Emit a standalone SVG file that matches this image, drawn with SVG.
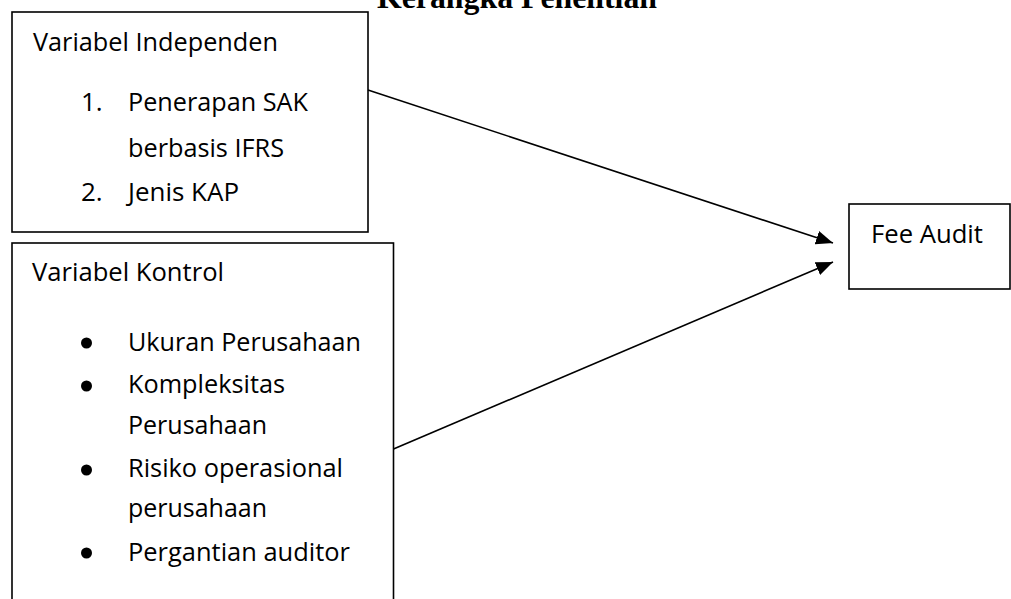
<svg xmlns="http://www.w3.org/2000/svg" width="1011" height="599" viewBox="0 0 1011 599">
  <style>
    .box { fill: #ffffff; stroke: #000000; stroke-width: 1.6; }
    .t { font-family: "Open Sans", "Liberation Sans", sans-serif; font-size: 26px; fill: #000000; }
    .title { font-family: "Liberation Serif", "Times New Roman", serif; font-size: 32px; font-weight: bold; fill: #000000; }
    .conn { stroke: #000000; stroke-width: 1.6; fill: none; }
  </style>
  <defs>
    <marker id="arrow" markerUnits="userSpaceOnUse" markerWidth="18" markerHeight="16" refX="17" refY="8" orient="auto">
      <path d="M0,1 L17,8 L0,15 Z" fill="#000000"/>
    </marker>
  </defs>
  <rect width="1011" height="599" fill="#ffffff"/>
  <text class="title" x="377" y="8" textLength="280" lengthAdjust="spacingAndGlyphs">Kerangka Penelitian</text>

  <g id="node-independen">
    <rect class="box" x="12" y="12" width="356" height="220"/>
    <text class="t" x="33" y="51" textLength="245" lengthAdjust="spacingAndGlyphs">Variabel Independen</text>
    <text class="t" x="81" y="111">1.</text>
    <text class="t" x="128" y="111" textLength="180" lengthAdjust="spacingAndGlyphs">Penerapan SAK</text>
    <text class="t" x="128" y="157" textLength="156" lengthAdjust="spacingAndGlyphs">berbasis IFRS</text>
    <text class="t" x="81" y="201">2.</text>
    <text class="t" x="128" y="201" textLength="111" lengthAdjust="spacingAndGlyphs">Jenis KAP</text>
  </g>

  <g id="node-kontrol">
    <rect class="box" x="12" y="243" width="381.5" height="370"/>
    <text class="t" x="32" y="281" textLength="192" lengthAdjust="spacingAndGlyphs">Variabel Kontrol</text>
    <circle cx="86.5" cy="343" r="5.5" fill="#000000"/>
    <text class="t" x="128" y="351" textLength="233" lengthAdjust="spacingAndGlyphs">Ukuran Perusahaan</text>
    <circle cx="86.5" cy="386" r="5.5" fill="#000000"/>
    <text class="t" x="128" y="393" textLength="157" lengthAdjust="spacingAndGlyphs">Kompleksitas</text>
    <text class="t" x="128" y="434" textLength="139" lengthAdjust="spacingAndGlyphs">Perusahaan</text>
    <circle cx="86.5" cy="470" r="5.5" fill="#000000"/>
    <text class="t" x="128" y="477" textLength="215" lengthAdjust="spacingAndGlyphs">Risiko operasional</text>
    <text class="t" x="128" y="517" textLength="139" lengthAdjust="spacingAndGlyphs">perusahaan</text>
    <circle cx="86.5" cy="553" r="5.5" fill="#000000"/>
    <text class="t" x="128" y="561" textLength="222" lengthAdjust="spacingAndGlyphs">Pergantian auditor</text>
  </g>

  <g id="node-fee">
    <rect class="box" x="849" y="204" width="161" height="85"/>
    <text class="t" x="871" y="243" textLength="112" lengthAdjust="spacingAndGlyphs">Fee Audit</text>
  </g>

  <g id="connectors">
    <line class="conn" x1="368" y1="90" x2="833" y2="243" marker-end="url(#arrow)"/>
    <line class="conn" x1="393.5" y1="449" x2="833" y2="262" marker-end="url(#arrow)"/>
  </g>
</svg>
